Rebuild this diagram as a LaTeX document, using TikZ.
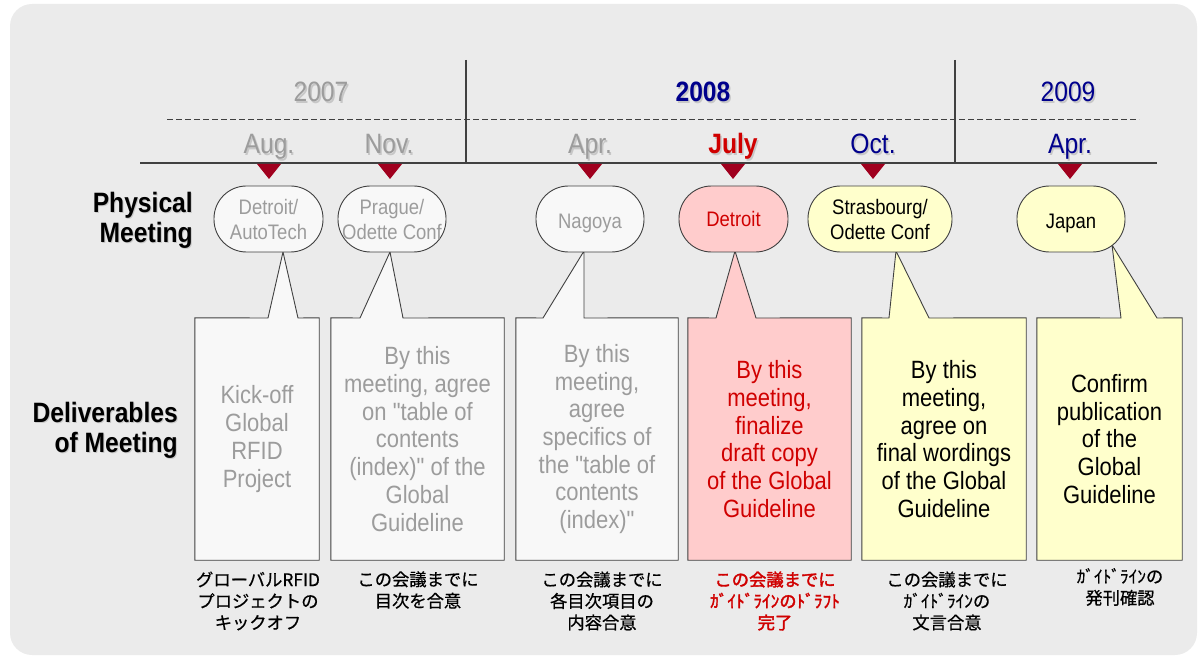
\documentclass[tikz,border=0pt]{standalone}
\usepackage{fontspec}
\setmainfont{Liberation Sans}[FakeStretch=0.88, Ligatures=TeXOff]
\newfontfamily\jp{Noto Sans CJK JP}[FakeBold=0.6]
\newfontfamily\jpbold{Noto Sans CJK JP}[FakeBold=2]
\usetikzlibrary{calc}
\definecolor{bgc}{HTML}{EBEBEB}
\definecolor{gtxt}{HTML}{9C9C9C}
\definecolor{navy}{HTML}{00008C}
\definecolor{dred}{HTML}{A0001E}
\definecolor{rtxt}{HTML}{D00000}
\definecolor{pinkf}{HTML}{FFCCCC}
\definecolor{yelf}{HTML}{FFFFCC}
\definecolor{whf}{HTML}{F8F8F8}
\definecolor{edgec}{HTML}{404040}
\tikzset{
  yearlbl/.style={anchor=base, inner sep=0pt, font=\fontsize{28}{30}\selectfont},
  monthlbl/.style={anchor=base, inner sep=0pt, font=\fontsize{28}{30}\selectfont},
  shadowlbl/.style={anchor=base, inner sep=0pt, text=black, opacity=0.15},
  meetbox/.style={draw=edgec, line width=0.9pt, rounded corners=32.5pt, minimum height=66pt, inner sep=0pt, align=center, font=\fontsize{21}{25}\selectfont},
  onebox/.style={text height=20pt, text depth=0pt},
  delivbox/.style={minimum height=242pt, inner sep=0pt, align=center, font=\fontsize{25}{27.7}\selectfont},
  callout/.style={draw=edgec, line width=0.9pt, line join=miter},
  sidelbl/.style={anchor=east, inner sep=0pt, align=right, font=\fontsize{28}{30}\selectfont\bfseries},
  jplbl/.style={inner sep=0pt, align=center, font=\jp\fontsize{17.3}{21.5}\selectfont},
  marker/.style={fill=dred},
}
\begin{document}
\begin{tikzpicture}[x=1pt,y=-1pt]
\useasboundingbox (0,0) rectangle (1203,663);
\fill[bgc, rounded corners=22pt] (10,4) rectangle (1197,655);

% timeline
\coordinate (tlL) at (140,163);
\coordinate (tlR) at (1157,163);
\draw[edgec, line width=1.3pt] (tlL) -- (tlR);
\coordinate (dsL) at (167,119);
\coordinate (dsR) at (1139,119);
\draw[edgec, line width=0.9pt, dash pattern=on 6pt off 3pt] (dsL) -- (dsR);
\coordinate (v1t) at (466,60); \coordinate (v1b) at (466,162);
\coordinate (v2t) at (955,60); \coordinate (v2b) at (955,162);
\draw[edgec, line width=1.1pt] (v1t) -- (v1b);
\draw[edgec, line width=1.1pt] (v2t) -- (v2b);

% shadows of years and months
\begin{scope}[font=\fontsize{28}{30}\selectfont]
\node[shadowlbl] at (322.5,103.5) {2007};
\node[shadowlbl, font=\fontsize{28}{30}\selectfont\bfseries] at (704.5,103.5) {2008};
\node[shadowlbl] at (1069.5,103.5) {2009};
\node[shadowlbl] at (270.5,155.5) {Aug.};
\node[shadowlbl] at (390.5,155.5) {Nov.};
\node[shadowlbl] at (591.5,155.5) {Apr.};
\node[shadowlbl, font=\fontsize{28}{30}\selectfont\bfseries] at (734.5,155.5) {July};
\node[shadowlbl] at (874.5,155.5) {Oct.};
\node[shadowlbl] at (1071.5,155.5) {Apr.};
\end{scope}

% years
\node[yearlbl, text=gtxt] (y7) at (321,102) {2007};
\node[yearlbl, text=navy, font=\fontsize{28}{30}\selectfont\bfseries] (y8) at (703,102) {2008};
\node[yearlbl, text=navy] (y9) at (1068,102) {2009};

% months
\node[monthlbl, text=gtxt] (mo1) at (269,154) {Aug.};
\node[monthlbl, text=gtxt] (mo2) at (389,154) {Nov.};
\node[monthlbl, text=gtxt] (mo3) at (590,154) {Apr.};
\node[monthlbl, text=rtxt, font=\fontsize{28}{30}\selectfont\bfseries] (mo4) at (733,154) {July};
\node[monthlbl, text=navy] (mo5) at (873,154) {Oct.};
\node[monthlbl, text=navy] (mo6) at (1070,154) {Apr.};

% markers
\foreach \x in {269,390,590,733,873,1070}{
  \fill[marker] (\x-12,164) -- (\x+12,164) -- (\x,179) -- cycle;
}

% side labels
\node[sidelbl, text=black!35, opacity=0.5] at (194,221) {Physical\\Meeting};
\node[sidelbl, text=black!35, opacity=0.5] at (179,431) {Deliverables\\of Meeting};
\node[sidelbl] (phys) at (193,220) {Physical\\Meeting};
\node[sidelbl] (deliv) at (178,430) {Deliverables\\of Meeting};

% deliverable boxes (invisible frames that carry the texts)
\node[delivbox, minimum width=124pt] (d1) at (257,439) {};
\node[delivbox, minimum width=173pt] (d2) at (417.5,439) {};
\node[delivbox, minimum width=162pt] (d3) at (597,439) {};
\node[delivbox, minimum width=163pt] (d4) at (769.5,439) {};
\node[delivbox, minimum width=164pt] (d5) at (944,439) {};
\node[delivbox, minimum width=145pt] (d6) at (1109.5,439) {};

% pointer tips
\coordinate (t1) at (283,252);
\coordinate (t2) at (390,252);
\coordinate (t3) at (584,251);
\coordinate (t4) at (735,251);
\coordinate (t5) at (896,251);
\coordinate (t6) at (1112,245);

% callout outlines
\filldraw[callout, fill=whf] (d1.north west) -- (268,318) -- (t1) -- (298,318) -- (d1.north east) -- (d1.south east) -- (d1.south west) -- cycle;
\filldraw[callout, fill=whf] (d2.north west) -- (360,318) -- (t2) -- (403,318) -- (d2.north east) -- (d2.south east) -- (d2.south west) -- cycle;
\filldraw[callout, fill=whf] (d3.north west) -- (543,318) -- (t3) -- (584,318) -- (d3.north east) -- (d3.south east) -- (d3.south west) -- cycle;
\filldraw[callout, fill=pinkf] (d4.north west) -- (716,318) -- (t4) -- (756,318) -- (d4.north east) -- (d4.south east) -- (d4.south west) -- cycle;
\filldraw[callout, fill=yelf] (d5.north west) -- (889,318) -- (t5) -- (929,318) -- (d5.north east) -- (d5.south east) -- (d5.south west) -- cycle;
\filldraw[callout, fill=yelf] (d6.north west) -- (1121,318) -- (t6) -- (1157,318) -- (d6.north east) -- (d6.south east) -- (d6.south west) -- cycle;

% box texts
\node[delivbox, minimum width=124pt, text=gtxt] (x1) at (d1) {Kick-off\\Global\\RFID\\Project};
\node[delivbox, minimum width=173pt, text=gtxt] (x2) at (d2) {By this\\meeting, agree\\on "table of\\contents\\(index)" of the\\Global\\Guideline};
\node[delivbox, minimum width=162pt, text=gtxt] (x3) at (d3) {By this\\meeting,\\agree\\specifics of\\the "table of\\contents\\(index)"};
\node[delivbox, minimum width=163pt, text=rtxt] (x4) at (d4) {By this\\meeting,\\finalize\\draft copy\\of the Global\\Guideline};
\node[delivbox, minimum width=164pt, text=black] (x5) at (d5) {By this\\meeting,\\agree on\\final wordings\\of the Global\\Guideline};
\node[delivbox, minimum width=145pt, text=black] (x6) at (d6) {Confirm\\publication\\of the\\Global\\Guideline};

% meeting bubbles
\node[meetbox, fill=whf, minimum width=109pt, text=gtxt] (m1) at (268.5,219) {Detroit/\\AutoTech};
\node[meetbox, fill=whf, minimum width=108pt, text=gtxt] (m2) at (392,219) {Prague/\\Odette Conf};
\node[meetbox, onebox, fill=whf, minimum width=108pt, text=gtxt] (m3) at (590,219) {Nagoya};
\node[meetbox, fill=pinkf, minimum width=109pt, text=rtxt] (m4) at (733.5,219) {Detroit};
\node[meetbox, fill=yelf, minimum width=144pt, text=black] (m5) at (880,219) {Strasbourg/\\Odette Conf};
\node[meetbox, onebox, fill=yelf, minimum width=108pt, text=black] (m6) at (1071,219) {Japan};

% Japanese notes
\node[jplbl] (j1) at (258,601) {グローバルRFID\\プロジェクトの\\キックオフ};
\node[jplbl] (j2) at (418,590) {この会議までに\\目次を合意};
\node[jplbl] (j3) at (602,601) {この会議までに\\各目次項目の\\内容合意};
\node[jplbl, text=rtxt, font=\jpbold\fontsize{17.3}{21.5}\selectfont] (j4) at (775,601) {この会議までに\\ｶﾞｲﾄﾞﾗｲﾝのﾄﾞﾗﾌﾄ\\完了};
\node[jplbl] (j5) at (947,601) {この会議までに\\ｶﾞｲﾄﾞﾗｲﾝの\\文言合意};
\node[jplbl] (j6) at (1120,587) {ｶﾞｲﾄﾞﾗｲﾝの\\発刊確認};
\end{tikzpicture}
\end{document}
